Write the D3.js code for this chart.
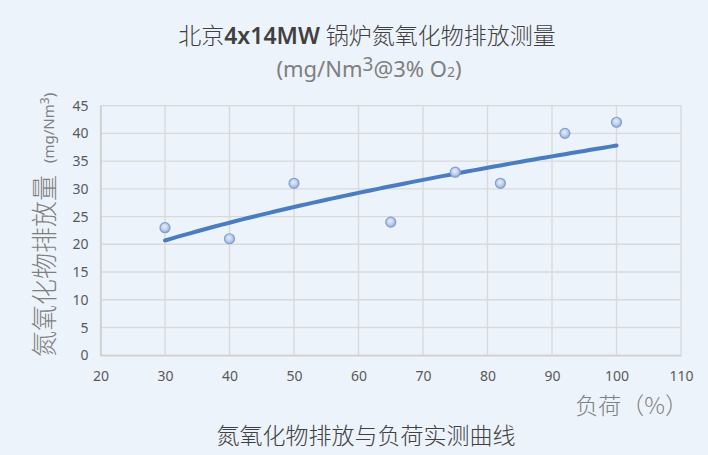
<!DOCTYPE html>
<html>
<head>
<meta charset="utf-8">
<script src="https://cdn.jsdelivr.net/npm/d3@7"></script>
<style>
  html, body { margin: 0; padding: 0; background: #edf3fb; }
  svg { display: block; }
</style>
</head>
<body>
<svg id="chart" width="708" height="455"></svg>
<script>
// Measured boiler load (%) and NOx emission (mg/Nm3 @3% O2)
const loads = [30, 40, 50, 65, 75, 82, 92, 100];
const emissions = [23, 21, 31, 24, 33, 31, 40, 42];
const xTicks = [20, 30, 40, 50, 60, 70, 80, 90, 100, 110];
const yTicks = [0, 5, 10, 15, 20, 25, 30, 35, 40, 45];

const W = 708, H = 455;
const plot = { left: 100.5, right: 681, top: 105.6, bottom: 355.3 };
const cjk = "'Noto Sans CJK SC', 'Noto Sans', sans-serif";
const num = "'Noto Sans', 'Open Sans', sans-serif";

const svg = d3.select("#chart");
svg.append("rect").attr("width", W).attr("height", H).attr("fill", "#edf3fb");

const x = d3.scaleLinear().domain([20, 110]).range([plot.left, plot.right]);
const y = d3.scaleLinear().domain([0, 45]).range([plot.bottom, plot.top]);

// gridlines
const grid = svg.append("g").attr("stroke", "#d9d9d9").attr("stroke-width", 1.4);
grid.selectAll("line.v").data(xTicks).join("line")
  .attr("x1", d => x(d)).attr("x2", d => x(d))
  .attr("y1", plot.top).attr("y2", plot.bottom);
grid.selectAll("line.h").data(yTicks).join("line")
  .attr("x1", plot.left).attr("x2", plot.right)
  .attr("y1", d => y(d)).attr("y2", d => y(d));

// axes
const xAxis = svg.append("g").attr("transform", `translate(0,${plot.bottom})`)
  .call(d3.axisBottom(x).tickValues(xTicks).tickSize(0).tickPadding(16));
const yAxis = svg.append("g").attr("transform", `translate(${plot.left},0)`)
  .call(d3.axisLeft(y).tickValues(yTicks).tickSize(0).tickPadding(12));
[xAxis, yAxis].forEach(a => {
  a.select(".domain").attr("stroke", "#cfcfcf").attr("stroke-width", 1.6);
  a.selectAll("text").attr("fill", "#595959").style("font-family", num).style("font-size", "14px");
});

// power trendline y = a * x^b fitted on the measurements
const lx = loads.map(Math.log), ly = emissions.map(Math.log);
const mx = d3.mean(lx), my = d3.mean(ly);
const b = d3.sum(lx, (v, i) => (v - mx) * (ly[i] - my)) / d3.sum(lx, v => (v - mx) ** 2);
const a = Math.exp(my - b * mx);
const trendX = d3.range(d3.min(loads), d3.max(loads) + 0.5, 1);
svg.append("path")
  .datum(trendX)
  .attr("fill", "none")
  .attr("stroke", "#4a7dbf")
  .attr("stroke-width", 4)
  .attr("stroke-linecap", "round")
  .attr("d", d3.line().x(d => x(d)).y(d => y(a * Math.pow(d, b))));

// markers
const defs = svg.append("defs");
const grad = defs.append("radialGradient").attr("id", "dot").attr("cx", "45%").attr("cy", "40%").attr("r", "60%");
grad.append("stop").attr("offset", "0%").attr("stop-color", "#e6eefa");
grad.append("stop").attr("offset", "60%").attr("stop-color", "#bccde9");
grad.append("stop").attr("offset", "100%").attr("stop-color", "#8eaad8");
svg.append("g").selectAll("circle").data(loads).join("circle")
  .attr("cx", d => x(d))
  .attr("cy", (d, i) => y(emissions[i]))
  .attr("r", 5)
  .attr("fill", "url(#dot)")
  .attr("stroke", "#7f9fd2")
  .attr("stroke-width", 1.2);

// title
const t1 = svg.append("text").attr("x", 367).attr("y", 44).attr("text-anchor", "middle")
  .attr("fill", "#404040").style("font-family", cjk).style("font-size", "23px").style("font-weight", 300);
t1.append("tspan").text("北京");
t1.append("tspan").style("font-family", num).style("font-weight", "600").text("4x14MW ");
t1.append("tspan").text("锅炉氮氧化物排放测量");

const t2 = svg.append("text").attr("x", 369).attr("y", 77).attr("text-anchor", "middle")
  .attr("fill", "#7f7f7f").style("font-family", num).style("font-size", "22px");
t2.append("tspan").text("(mg/Nm");
t2.append("tspan").attr("dy", -6).style("font-size", "19px").text("3");
t2.append("tspan").attr("dy", 6).text("@3% O");
t2.append("tspan").style("font-size", "14px").text("2");
t2.append("tspan").text(")");

// y-axis title
const yt = svg.append("text")
  .attr("transform", "translate(54,357) rotate(-90)")
  .attr("text-anchor", "start")
  .attr("fill", "#7f7f7f").style("font-family", cjk).style("font-weight", 300);
yt.append("tspan").style("font-size", "26px").text("氮氧化物排放量");
yt.append("tspan").style("font-family", num).style("font-weight", 400).style("font-size", "15px").attr("dx", 12).text("(mg/Nm");
yt.append("tspan").style("font-family", num).style("font-weight", 400).style("font-size", "12px").attr("dy", -5).text("3");
yt.append("tspan").style("font-family", num).style("font-weight", 400).style("font-size", "15px").attr("dy", 5).text(")");

// x-axis title
svg.append("text").attr("x", 688).attr("y", 414).attr("text-anchor", "end")
  .attr("fill", "#7f7f7f").style("font-family", cjk).style("font-size", "23px").style("font-weight", 300)
  .text("负荷（%）");

// caption
svg.append("text").attr("x", 366).attr("y", 444).attr("text-anchor", "middle")
  .attr("fill", "#404040").style("font-family", cjk).style("font-size", "23px").style("font-weight", 300)
  .text("氮氧化物排放与负荷实测曲线");
</script>
</body>
</html>
